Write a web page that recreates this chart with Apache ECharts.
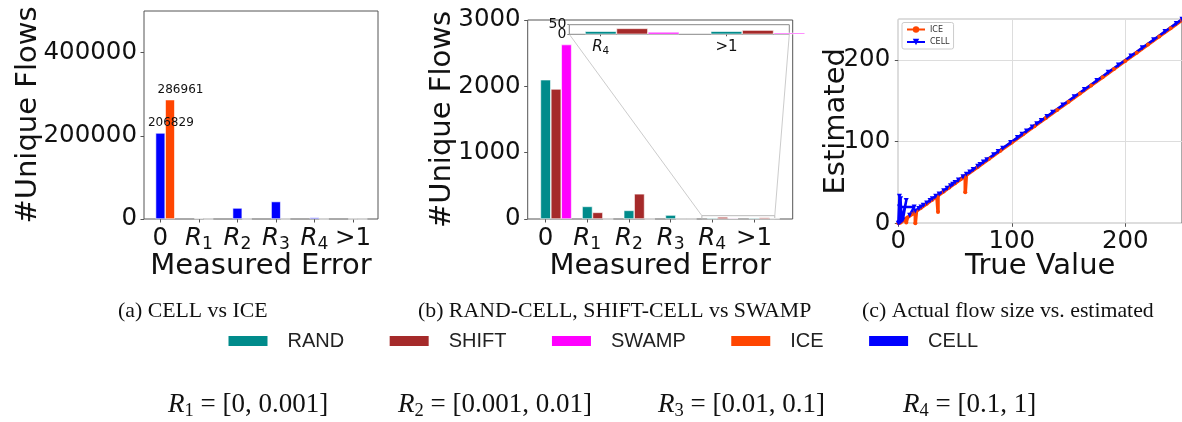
<!DOCTYPE html>
<html>
<head>
<meta charset="utf-8">
<script src="https://cdn.jsdelivr.net/npm/echarts@6/dist/echarts.min.js"></script>
<style>
  html, body {margin: 0; padding: 0; background: #fff;}
  #chart {width: 1182px; height: 422px;}
</style>
</head>
<body>
<div id="chart"></div>
<script>
// error buckets shared by (a) and (b)
const errCats = ['0', 'R1', 'R2', 'R3', 'R4', '>1']
const insetCats = ['R4', '>1']

// (a) CELL vs ICE
const cellCounts = [206829, 1500, 26500, 42000, 3500, 300]
const iceCounts = [286961, 0, 0, 0, 0, 0]

// (b) RAND-CELL, SHIFT-CELL vs SWAMP
const randCounts = [2100, 190, 130, 60, 16, 16]
const shiftCounts = [1960, 100, 380, 0, 31, 22]
const swampCounts = [2630, 0, 0, 0, 12, 8]
const insetTicks = [0, 50]

// (c) true value vs estimated
const iceTrue = [0, 2, 5, 7, 7, 8, 12, 15, 15, 16, 20, 25, 30, 34, 35, 35, 40, 45, 50, 55, 59, 59, 60,
  70, 80, 90, 100, 110, 120, 130, 140, 150, 160, 170, 180, 190, 200, 210, 220, 230, 240, 250]
const iceEst = [0, 1, 4, 6, 1, 7, 11, 14, 0, 15, 19, 24, 29, 33, 14, 34, 39, 44, 49, 54, 58, 38, 59,
  69, 79, 89, 99, 109, 119, 129, 139, 149, 159, 169, 179, 189, 199, 209, 219, 229, 239, 249]
const cellTrue = [0, 1, 1, 2, 2, 3, 7, 4, 1, 14, 10, 15, 18, 20, 22, 25, 28, 30, 33, 36, 40, 43, 46, 48,
  50, 53, 57, 60, 63, 66, 70, 72, 75, 78, 84, 88, 92, 99, 105, 109, 113, 118, 122, 126, 131, 136,
  145, 155, 164, 175, 185, 194, 205, 215, 225, 235, 245, 250]
const cellEst = [0, 1, 33, 2, 30, 3, 28, 4, 20, 20, 10, 15, 18, 20, 22, 25, 28, 30, 33, 36, 40, 43, 46, 48,
  50, 53, 57, 60, 63, 66, 70, 72, 75, 78, 84, 88, 92, 99, 105, 109, 113, 118, 122, 126, 131, 136,
  145, 155, 164, 175, 185, 194, 205, 215, 225, 235, 245, 250]

const captions = ['(a) CELL vs ICE', '(b) RAND-CELL, SHIFT-CELL vs SWAMP', '(c) Actual flow size vs. estimated']
const rangeNames = ['R1', 'R2', 'R3', 'R4']
const rangeBounds = ['[0, 0.001]', '[0.001, 0.01]', '[0.01, 0.1]', '[0.1, 1]']

const COLORS = {RAND: '#008b8b', SHIFT: '#a52a2a', SWAMP: '#ff00ff', ICE: '#ff4500', CELL: '#0000ff'}
const SANS = 'DejaVu Sans'
const SERIF = 'Liberation Serif'
const INK = '#111'
const FRAME = '#555'
const BW = 0.25 // bar width in bucket units
const ZOOM_X = [3.5, 5.25]
const ZOOM_Y = [0, 50]

const chart = echarts.init(document.getElementById('chart'))

function rich(size) {
  return {
    n: {fontSize: size, fontFamily: SANS, color: INK, lineHeight: size * 1.2},
    r: {fontSize: size, fontFamily: SANS, fontStyle: 'italic', color: INK, lineHeight: size * 1.2},
    s: {fontSize: size * 0.7, fontFamily: SANS, color: INK, lineHeight: size * 0.7, verticalAlign: 'bottom'},
  }
}

function catLabel(c) {
  return c[0] === 'R' ? `{r|R}{s|${c.slice(1)}}` : `{n|${c}}`
}

// ticks sit under the first bar of each group
function bucketAxis(grid, min, max, nBars, cats, size, margin, tickLen, named) {
  const first = nBars * BW / 2 - BW / 2
  const pos = cats.map(c => errCats.indexOf(c) - first)
  const ax = {
    type: 'value', gridIndex: grid, min, max,
    axisLine: {show: false, onZero: false}, splitLine: {show: false},
    axisTick: {customValues: pos, length: tickLen, lineStyle: {color: FRAME}},
    axisLabel: {
      customValues: pos, margin, rich: rich(size), showMinLabel: true, showMaxLabel: true,
      formatter: v => catLabel(errCats[Math.round(v + first)]),
    },
  }
  if (named) {
    Object.assign(ax, {
      name: 'Measured Error', nameLocation: 'middle', nameGap: 33, nameMoveOverlap: false,
      nameTextStyle: {fontSize: 29, fontFamily: SANS, color: INK},
    })
  }
  return ax
}

function countAxis(grid, max, interval, size, name, gap) {
  const ax = {
    type: 'value', gridIndex: grid, min: 0, max, interval,
    axisLine: {show: false, onZero: false}, splitLine: {show: false},
    axisTick: {length: 3.5, lineStyle: {color: FRAME}},
    axisLabel: {
      margin: 7, fontSize: size, fontFamily: SANS, color: INK,
      showMinLabel: true, showMaxLabel: max % interval === 0,
      formatter: v => String(v),
    },
  }
  if (name) {
    Object.assign(ax, {
      name, nameLocation: 'middle', nameGap: gap, nameMoveOverlap: false,
      nameTextStyle: {fontSize: 29, fontFamily: SANS, color: INK},
    })
  }
  return ax
}

// one axis per inset tick so the two close labels both stay visible
function insetCountAxis(v) {
  return {
    type: 'value', gridIndex: 3, min: ZOOM_Y[0], max: ZOOM_Y[1], position: 'left',
    axisLine: {show: false, onZero: false}, splitLine: {show: false},
    axisTick: {customValues: [v], length: 2, lineStyle: {color: '#888'}},
    axisLabel: {customValues: [v], showMinLabel: true, showMaxLabel: true, margin: 3,
      fontSize: 14, fontFamily: SANS, color: INK, formatter: x => String(x)},
  }
}

function bars(name, values, axis, extra) {
  return Object.assign({
    type: 'bar', name, xAxisIndex: axis, yAxisIndex: axis,
    data: values.map((v, i) => [i, v]),
    barWidth: '25%', barGap: '0%',
    itemStyle: {color: COLORS[name], borderColor: '#fff', borderWidth: 0.6},
    emphasis: {disabled: true},
  }, extra)
}

function insetBars(name, values) {
  const s = bars(name, values, 3)
  s.data = s.data.filter(d => insetCats.includes(errCats[d[0]]))
  return s
}

const topLabel = {
  show: true, position: 'top', distance: 4, offset: [10.5, 0],
  fontSize: 12, fontFamily: SANS, color: INK,
  formatter: p => p.dataIndex === 0 ? String(p.value[1]) : '',
}

const option = {
  animation: false,
  backgroundColor: '#fff',
  title: captions.map((t, i) => ({
    text: t, left: [118, 418, 862][i], top: 300, padding: 0,
    textStyle: {fontFamily: SERIF, fontSize: 21.8, fontWeight: 'normal', color: INK},
  })),
  legend: [{
    data: ['RAND', 'SHIFT', 'SWAMP', 'ICE', 'CELL'],
    selectedMode: false, icon: 'rect',
    left: 226.5, top: 331, padding: 0,
    itemWidth: 41, itemHeight: 12, itemGap: 43.5,
    textStyle: {fontFamily: 'Liberation Sans', fontSize: 20, color: '#222', padding: [0, 0, 0, 14]},
  }, {
    data: ['ICE-est', 'CELL-est'],
    selectedMode: false, orient: 'vertical',
    left: 902, top: 22.5, padding: [3, 4],
    itemWidth: 18, itemHeight: 8, itemGap: 4.5,
    borderColor: '#ccc', borderWidth: 1, borderRadius: 2, backgroundColor: '#fff',
    formatter: n => n.split('-')[0],
    textStyle: {fontSize: 8, fontFamily: SANS, color: '#333'},
  }],
  grid: [
    {left: 144, right: 804, top: 11, bottom: 203, show: true, borderColor: FRAME, borderWidth: 1},
    {left: 527.7, right: 389.3, top: 20, bottom: 203, show: true, borderColor: FRAME, borderWidth: 1},
    {left: 898.3, right: -5, top: 19.3, bottom: 198.7, show: true, borderColor: FRAME, borderWidth: 1},
    {left: 569.3, right: 392.7, top: 24.7, bottom: 387.7, show: true, borderColor: '#888', borderWidth: 1, backgroundColor: '#fff'},
  ],
  xAxis: [
    bucketAxis(0, -0.55, 5.525, 2, errCats, 24.5, 5, 3.5, true),
    bucketAxis(1, -0.68, 5.68, 3, errCats, 24.5, 5, 3.5, true),
    {
      type: 'value', gridIndex: 2, min: 0, max: 250, interval: 100,
      axisLine: {show: false, onZero: false},
      splitLine: {lineStyle: {color: '#ddd', width: 1}},
      axisTick: {length: 3.5, lineStyle: {color: FRAME}},
      axisLabel: {showMaxLabel: false, margin: 6, fontSize: 24.5, fontFamily: SANS, color: INK},
      name: 'True Value', nameLocation: 'middle', nameGap: 29, nameMoveOverlap: false,
      nameTextStyle: {fontSize: 29, fontFamily: SANS, color: INK},
    },
    bucketAxis(3, ZOOM_X[0], ZOOM_X[1], 3, insetCats, 15, 4, 2, false),
  ],
  yAxis: [
    countAxis(0, 500000, 200000, 24.5, '#Unique Flows', 101),
    countAxis(1, 3000, 1000, 24.5, '#Unique Flows', 71),
    {
      type: 'value', gridIndex: 2, min: 0, max: 250, interval: 100,
      axisLine: {show: false, onZero: false},
      splitLine: {lineStyle: {color: '#ddd', width: 1}},
      axisTick: {length: 3.5, lineStyle: {color: FRAME}},
      axisLabel: {showMaxLabel: false, margin: 8, fontSize: 24.5, fontFamily: SANS, color: INK},
      name: 'Estimated', nameLocation: 'middle', nameGap: 47, nameMoveOverlap: false,
      nameTextStyle: {fontSize: 29, fontFamily: SANS, color: INK},
    },
    ...insetTicks.map(insetCountAxis),
  ],
  series: [
    bars('CELL', cellCounts, 0, {label: topLabel}),
    bars('ICE', iceCounts, 0, {label: topLabel}),
    bars('RAND', randCounts, 1),
    bars('SHIFT', shiftCounts, 1),
    bars('SWAMP', swampCounts, 1, {
      markArea: {
        silent: true,
        label: {show: false},
        itemStyle: {color: 'rgba(0,0,0,0)', borderColor: '#bbb', borderWidth: 1},
        data: [[{coord: [ZOOM_X[0], ZOOM_Y[0]]}, {coord: [ZOOM_X[1], ZOOM_Y[1]]}]],
      },
    }),
    insetBars('RAND', randCounts),
    insetBars('SHIFT', shiftCounts),
    insetBars('SWAMP', swampCounts),
    {
      type: 'line', name: 'ICE-est', xAxisIndex: 2, yAxisIndex: 2,
      data: iceTrue.map((t, i) => [t, iceEst[i]]),
      symbol: 'circle', symbolSize: 4, showAllSymbol: true,
      lineStyle: {width: 3.5, color: COLORS.ICE}, itemStyle: {color: COLORS.ICE},
      emphasis: {disabled: true},
    },
    {
      type: 'line', name: 'CELL-est', xAxisIndex: 2, yAxisIndex: 2,
      data: cellTrue.map((t, i) => [t, cellEst[i]]),
      symbol: 'triangle', symbolRotate: 180, symbolSize: 5, showAllSymbol: true,
      lineStyle: {width: 2.5, color: COLORS.CELL}, itemStyle: {color: COLORS.CELL},
      emphasis: {disabled: true},
    },
  ],
  graphic: rangeNames.map((r, i) => ({
    type: 'text', id: 'range' + i,
    x: [168, 398, 658, 903][i], y: 405,
    style: {
      text: `{r|R}{s|${r.slice(1)}}{t| = ${rangeBounds[i]}}`,
      verticalAlign: 'middle',
      rich: {
        r: {fontFamily: SERIF, fontStyle: 'italic', fontSize: 27, lineHeight: 32, fill: INK},
        s: {fontFamily: SERIF, fontSize: 18.5, lineHeight: 18, verticalAlign: 'bottom', fill: INK},
        t: {fontFamily: SERIF, fontSize: 27, lineHeight: 32, fill: INK},
      },
    },
  })),
}

chart.setOption(option)

// lines joining the inset to the zoomed box in (b)
const px = (grid, pt) => chart.convertToPixel({gridIndex: grid}, pt)
const joins = [0, 1].map(k => {
  const from = px(3, [ZOOM_X[k], ZOOM_Y[0]])
  const to = px(1, [ZOOM_X[k], ZOOM_Y[1]])
  return {
    type: 'line', id: 'join' + k, silent: true, z: -1,
    shape: {x1: from[0], y1: from[1], x2: to[0], y2: to[1]},
    style: {stroke: '#ccc', lineWidth: 1},
  }
})
chart.setOption({graphic: joins})
</script>
</body>
</html>
